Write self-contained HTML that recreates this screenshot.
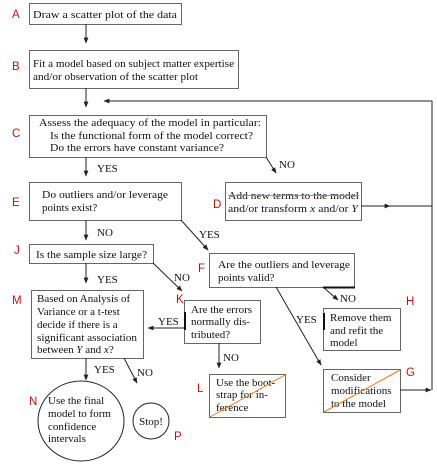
<!DOCTYPE html>
<html><head><meta charset="utf-8"><style>
html,body{margin:0;padding:0;background:#fff;}
svg{display:block;}
.t{font-family:"Liberation Serif",serif;font-size:11px;fill:#111;}
.l{font-family:"Liberation Sans",sans-serif;font-size:11.5px;fill:#c01010;}
.b{fill:none;stroke:#666;stroke-width:1;}
.a{stroke:#222;stroke-width:1;fill:none;}
.o{stroke:#f07820;stroke-width:1;}
</style></head><body>
<svg width="437" height="465" viewBox="0 0 437 465" xmlns="http://www.w3.org/2000/svg">
<defs><marker id="m" viewBox="0 0 10 10" refX="9" refY="5" markerWidth="6" markerHeight="6" orient="auto"><path d="M0,1 L10,5 L0,9z" fill="#222"/></marker></defs>
<text class="l" x="12" y="18">A</text>
<rect class="b" x="29.5" y="3.5" width="152" height="21"/>
<text class="t" x="33" y="18" textLength="144" lengthAdjust="spacingAndGlyphs">Draw a scatter plot of the data</text>
<line class="a" x1="86" y1="24" x2="86" y2="43" marker-end="url(#m)"/>
<text class="l" x="12" y="70">B</text>
<rect class="b" x="29.5" y="50.5" width="209" height="38"/>
<text class="t" x="33" y="67" textLength="201" lengthAdjust="spacingAndGlyphs">Fit a model based on subject matter expertise</text>
<text class="t" x="33" y="80" textLength="165" lengthAdjust="spacingAndGlyphs">and/or observation of the scatter plot</text>
<line class="a" x1="86" y1="88" x2="86" y2="107" marker-end="url(#m)"/>
<polyline class="a" points="432,390 432,101 104,101" marker-end="url(#m)"/>
<text class="l" x="12" y="137">C</text>
<rect class="b" x="29.5" y="115.5" width="237" height="42"/>
<text class="t" x="39" y="126" textLength="222" lengthAdjust="spacingAndGlyphs">Assess the adequacy of the model in particular:</text>
<text class="t" x="50" y="139" textLength="203" lengthAdjust="spacingAndGlyphs">Is the functional form of the model correct?</text>
<text class="t" x="50" y="151" textLength="174" lengthAdjust="spacingAndGlyphs">Do the errors have constant variance?</text>
<line class="a" x1="86" y1="157" x2="86" y2="176" marker-end="url(#m)"/>
<text class="t" x="97" y="172">YES</text>
<line class="a" x1="266" y1="157" x2="276" y2="173" marker-end="url(#m)"/>
<text class="t" x="279" y="168">NO</text>
<text class="l" x="12" y="206">E</text>
<rect class="b" x="29.5" y="182.5" width="152" height="38"/>
<text class="t" x="42" y="198" textLength="126" lengthAdjust="spacingAndGlyphs">Do outliers and/or leverage</text>
<text class="t" x="42" y="211">points exist?</text>
<line class="a" x1="86" y1="220" x2="86" y2="240" marker-end="url(#m)"/>
<text class="t" x="97" y="236">NO</text>
<line class="a" x1="181" y1="220" x2="208" y2="250" marker-end="url(#m)"/>
<text class="t" x="199" y="238">YES</text>
<text class="l" x="213" y="208">D</text>
<rect class="b" x="225.5" y="182.5" width="136" height="38"/>
<text class="t" x="228" y="199" textLength="131" lengthAdjust="spacingAndGlyphs">Add new terms to the model</text>
<line class="o" x1="228" y1="195.5" x2="359" y2="195.5"/>
<text class="t" x="228" y="212" textLength="130" lengthAdjust="spacingAndGlyphs">and/or transform <tspan font-style="italic">x</tspan> and/or <tspan font-style="italic">Y</tspan></text>
<line class="a" x1="361" y1="206" x2="390" y2="206" marker-end="url(#m)"/>
<line class="a" x1="388" y1="206" x2="432" y2="206"/>
<text class="l" x="14" y="254">J</text>
<rect class="b" x="29.5" y="244.5" width="124" height="19"/>
<text class="t" x="36" y="258" textLength="111" lengthAdjust="spacingAndGlyphs">Is the sample size large?</text>
<line class="a" x1="86" y1="263" x2="86" y2="283" marker-end="url(#m)"/>
<text class="t" x="97" y="283">YES</text>
<line class="a" x1="153" y1="263" x2="182" y2="291" marker-end="url(#m)"/>
<text class="t" x="174" y="281">NO</text>
<text class="l" x="198" y="272">F</text>
<rect class="b" x="209.5" y="253.5" width="145" height="34"/>
<text class="t" x="218" y="268" textLength="132" lengthAdjust="spacingAndGlyphs">Are the outliers and leverage</text>
<text class="t" x="218" y="281">points valid?</text>
<line x1="323" y1="287.5" x2="355" y2="287.5" stroke="#111" stroke-width="2"/>
<line class="a" x1="323" y1="287" x2="338" y2="300" marker-end="url(#m)"/>
<text class="t" x="340" y="302">NO</text>
<line class="a" x1="276" y1="287" x2="321" y2="365" marker-end="url(#m)"/>
<text class="t" x="296" y="323">YES</text>
<text class="l" x="406" y="305">H</text>
<rect class="b" x="323.5" y="308.5" width="77" height="42"/>
<line x1="324" y1="313" x2="324" y2="330" stroke="#111" stroke-width="2"/>
<text class="t" x="330" y="321">Remove them</text>
<text class="t" x="330" y="334">and refit the</text>
<text class="t" x="330" y="346">model</text>
<text class="l" x="12" y="304">M</text>
<rect class="b" x="31.5" y="290.5" width="112" height="68"/>
<text class="t" x="37" y="302">Based on Analysis of</text>
<text class="t" x="37" y="315">Variance or a t-test</text>
<text class="t" x="37" y="328">decide if there is a</text>
<text class="t" x="37" y="341" textLength="100" lengthAdjust="spacingAndGlyphs">significant association</text>
<text class="t" x="37" y="353">between <tspan font-style="italic">Y</tspan> and <tspan font-style="italic">x</tspan>?</text>
<line class="a" x1="86" y1="358" x2="86" y2="380" marker-end="url(#m)"/>
<text class="t" x="94" y="373">YES</text>
<line class="a" x1="124" y1="358" x2="137" y2="383" marker-end="url(#m)"/>
<text class="t" x="137" y="376">NO</text>
<text class="l" x="176" y="303">K</text>
<rect class="b" x="184.5" y="300.5" width="76" height="43"/>
<line x1="185" y1="312" x2="185" y2="330" stroke="#111" stroke-width="2"/>
<text class="t" x="191" y="313">Are the errors</text>
<text class="t" x="191" y="325">normally dis-</text>
<text class="t" x="191" y="338">tributed?</text>
<line class="a" x1="184" y1="328" x2="148" y2="328" marker-end="url(#m)"/>
<text class="t" x="158" y="325">YES</text>
<line class="a" x1="219" y1="343" x2="219" y2="368" marker-end="url(#m)"/>
<text class="t" x="223" y="361">NO</text>
<text class="l" x="197" y="392">L</text>
<rect class="b" x="209.5" y="374.5" width="76" height="43"/>
<text class="t" x="216" y="386">Use the boot-</text>
<text class="t" x="216" y="398">strap for in-</text>
<text class="t" x="216" y="411">ference</text>
<line class="o" x1="210" y1="417" x2="285" y2="375"/>
<text class="l" x="406" y="376">G</text>
<rect class="b" x="323.5" y="369.5" width="77" height="43"/>
<text class="t" x="331" y="381">Consider</text>
<text class="t" x="331" y="394">modifications</text>
<text class="t" x="331" y="407">to the model</text>
<line class="o" x1="324" y1="412" x2="400" y2="370"/>
<line class="a" x1="400" y1="390" x2="431" y2="390" marker-end="url(#m)"/>
<text class="l" x="29" y="405">N</text>
<ellipse cx="81" cy="421" rx="43" ry="40" fill="none" stroke="#222"/>
<text class="t" x="48" y="404">Use the final</text>
<text class="t" x="48" y="417">model to form</text>
<text class="t" x="48" y="430">confidence</text>
<text class="t" x="48" y="442">intervals</text>
<circle cx="151" cy="421" r="18" fill="none" stroke="#222"/>
<text class="t" x="151" y="425" text-anchor="middle">Stop!</text>
<text class="l" x="174" y="440">P</text>
</svg>
</body></html>
